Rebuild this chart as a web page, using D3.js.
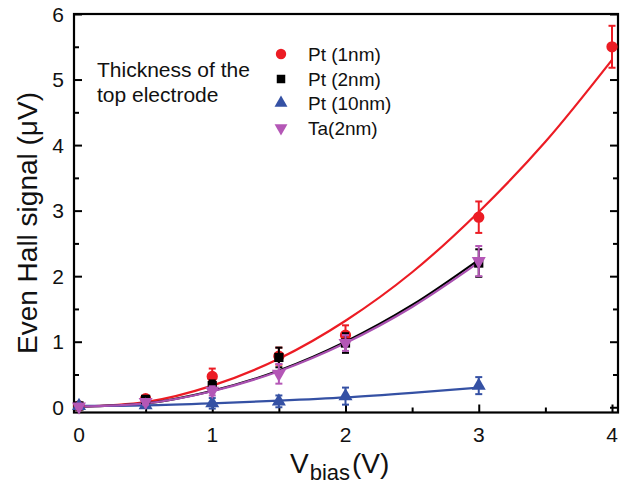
<!DOCTYPE html>
<html>
<head>
<meta charset="utf-8">
<script src="https://cdn.jsdelivr.net/npm/d3@7"></script>
<style>
  body { margin: 0; background: #fff; }
  text { font-family: "Liberation Sans", Arial, sans-serif; fill: #111; }
</style>
</head>
<body>
<svg id="chart" width="637" height="485"></svg>
<script>
// measured points
const ptXs = [0, 0.5, 1, 1.5, 2, 3, 4];
const pt1Y = [0.02, 0.13, 0.47, 0.78, 1.1, 2.9, 5.5];
const pt1Err = [0.03, 0.04, 0.12, 0.13, 0.15, 0.24, 0.32];
const pt2Y = [0.02, 0.12, 0.33, 0.76, 0.98, 2.2];
const pt2Err = [0.03, 0.04, 0.08, 0.15, 0.15, 0.21];
const pt10Y = [0.02, 0.03, 0.06, 0.09, 0.17, 0.33];
const pt10Err = [0.03, 0.03, 0.08, 0.09, 0.13, 0.13];
const ta2Y = [0.01, 0.08, 0.25, 0.51, 0.98, 2.23];
const ta2Err = [0.03, 0.04, 0.07, 0.15, 0.12, 0.23];

// fit curves
const fitXs = [0, 0.5, 1, 1.5, 2, 2.5, 3, 3.5, 4];
const fitPt1 = [0.01, 0.08, 0.33, 0.74, 1.32, 2.06, 2.98, 4.05, 5.3];
const fitPt2 = [0.01, 0.06, 0.25, 0.56, 1.0, 1.56, 2.25];
const fitPt10 = [0.02, 0.03, 0.06, 0.1, 0.15, 0.22, 0.3];
const fitTa2 = [0.01, 0.06, 0.245, 0.55, 0.98, 1.53, 2.21];

const legendNames = ["Pt (1nm)", "Pt (2nm)", "Pt (10nm)", "Ta(2nm)"];
const xTicks = [0, 1, 2, 3, 4];
const yTicks = [0, 1, 2, 3, 4, 5, 6];

const svg = d3.select("#chart");
const box = {left: 74, right: 618, top: 14, bottom: 412.5};

const x = d3.scaleLinear().domain([-0.0375, 4.045]).range([box.left, box.right]);
const y = d3.scaleLinear().domain([-0.08, 6]).range([box.bottom, box.top]);

const series = [
    {name: legendNames[0], ys: pt1Y, err: pt1Err, fit: fitPt1, color: "#ec1c24", fitColor: "#ec1c24", sym: d3.symbolCircle, size: 100, rot: 0},
    {name: legendNames[1], ys: pt2Y, err: pt2Err, fit: fitPt2, color: "#000000", fitColor: "#000000", sym: d3.symbolSquare, size: 85, rot: 0},
    {name: legendNames[2], ys: pt10Y, err: pt10Err, fit: fitPt10, color: "#3551a4", fitColor: "#3551a4", sym: d3.symbolTriangle, size: 85, rot: 0},
    {name: legendNames[3], ys: ta2Y, err: ta2Err, fit: fitTa2, color: "#b457b6", fitColor: "#a950b0", sym: d3.symbolTriangle, size: 85, rot: 180}
];

// axes: inward ticks on left, right and bottom
const minorY = d3.range(0.5, 6, 1);
const minorX = d3.range(0.5, 4, 1);

function tickAxis(axis, pos, vals, len) {
    svg.append("g")
        .attr("transform", pos)
        .call(axis.tickValues(vals).tickSize(len).tickFormat(""))
        .call(g => g.select(".domain").remove())
        .selectAll("line").attr("stroke", "#000").attr("stroke-width", 2);
}
tickAxis(d3.axisRight(y), `translate(${box.left},0)`, yTicks, 8);
tickAxis(d3.axisRight(y), `translate(${box.left},0)`, minorY, 5);
tickAxis(d3.axisLeft(y), `translate(${box.right},0)`, yTicks, 8);
tickAxis(d3.axisLeft(y), `translate(${box.right},0)`, minorY, 5);
tickAxis(d3.axisTop(x), `translate(0,${box.bottom})`, xTicks, 8);
tickAxis(d3.axisTop(x), `translate(0,${box.bottom})`, minorX, 5);

svg.append("rect")
    .attr("x", box.left).attr("y", box.top)
    .attr("width", box.right - box.left).attr("height", box.bottom - box.top)
    .attr("fill", "none").attr("stroke", "#000").attr("stroke-width", 2.2);

// tick labels
svg.selectAll(".ylab").data(yTicks).enter().append("text")
    .attr("x", 64).attr("y", d => y(d) + 7.5)
    .attr("text-anchor", "end").style("font-size", "21px")
    .text(d => d);
svg.selectAll(".xlab").data(xTicks).enter().append("text")
    .attr("x", d => x(d)).attr("y", 442)
    .attr("text-anchor", "middle").style("font-size", "21px")
    .text(d => d);

// axis titles
svg.append("text")
    .attr("transform", "translate(37,223) rotate(-90)")
    .attr("text-anchor", "middle").style("font-size", "28px")
    .text("Even Hall signal (\u03BCV)");
const xt = svg.append("text").attr("x", 290).attr("y", 473).style("font-size", "28px");
xt.append("tspan").text("V");
xt.append("tspan").attr("dx", 1).attr("dy", 7).style("font-size", "22px").text("bias");
xt.append("tspan").attr("dx", 2).attr("dy", -7).text("(V)");

// fit curves
const line = d3.line()
    .x((d, i) => x(fitXs[i]))
    .y(d => y(d))
    .curve(d3.curveMonotoneX);

series.forEach(s => {
    svg.append("path")
        .attr("d", line(s.fit))
        .attr("fill", "none")
        .attr("stroke", s.fitColor)
        .attr("stroke-width", 2.2);
});

// error bars + markers
series.forEach(s => {
    const g = svg.append("g");
    const pts = s.ys.map((v, i) => ({x: ptXs[i], y: v, e: s.err[i]}));
    g.selectAll(".eb").data(pts).enter().append("line")
        .attr("x1", d => x(d.x)).attr("x2", d => x(d.x))
        .attr("y1", d => y(d.y - d.e)).attr("y2", d => y(d.y + d.e))
        .attr("stroke", s.color).attr("stroke-width", 2);
    ["top", "bot"].forEach(k => {
        g.selectAll(".cap" + k).data(pts).enter().append("line")
            .attr("x1", d => x(d.x) - 3.5).attr("x2", d => x(d.x) + 3.5)
            .attr("y1", d => y(k == "top" ? d.y + d.e : d.y - d.e))
            .attr("y2", d => y(k == "top" ? d.y + d.e : d.y - d.e))
            .attr("stroke", s.color).attr("stroke-width", 2);
    });
    g.selectAll(".mk").data(pts).enter().append("path")
        .attr("d", d3.symbol().type(s.sym).size(s.size))
        .attr("transform", d => `translate(${x(d.x)},${y(d.y)}) rotate(${s.rot})`)
        .attr("fill", s.color);
});

// legend
const legY = [54, 79, 103, 128];
series.forEach((s, i) => {
    svg.append("path")
        .attr("d", d3.symbol().type(s.sym).size(s.size * 0.85))
        .attr("transform", `translate(281,${legY[i]}) rotate(${s.rot})`)
        .attr("fill", s.color);
    svg.append("text")
        .attr("x", 308).attr("y", legY[i] + 7)
        .style("font-size", "19px")
        .text(s.name);
});

svg.append("text").attr("x", 97).attr("y", 77).style("font-size", "21px").text("Thickness of the");
svg.append("text").attr("x", 97).attr("y", 102).style("font-size", "21px").text("top electrode");
</script>
</body>
</html>
